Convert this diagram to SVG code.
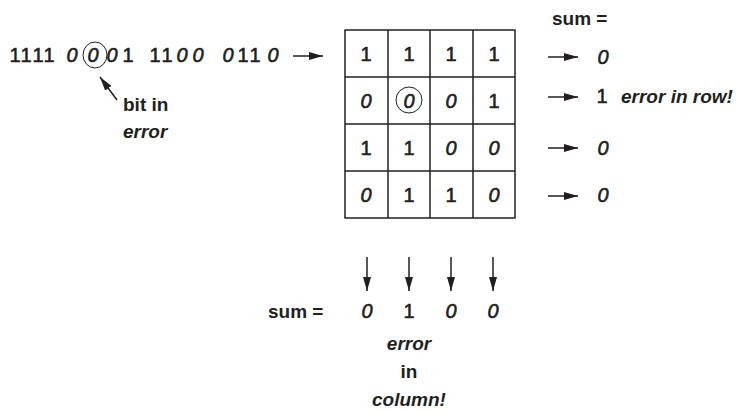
<svg xmlns="http://www.w3.org/2000/svg" width="737" height="412" viewBox="0 0 737 412">
<style>
text{font-family:"Liberation Sans",Arial,sans-serif;font-size:20px;fill:#231f20;stroke:#231f20;stroke-width:0.6}
.s{font-size:19px;font-weight:bold;stroke-width:0}
.c{text-anchor:middle}
.i{font-style:italic}
.grid{fill:none;stroke:#231f20;stroke-width:1.5}
.arr{stroke:#231f20;stroke-width:1.5;fill:none;marker-end:url(#ah)}
.ring{fill:none;stroke:#231f20;stroke-width:1}
</style>
<defs>
<marker id="ah" viewBox="0 0 14 8" refX="14" refY="4" markerWidth="14" markerHeight="8" markerUnits="userSpaceOnUse" orient="auto">
<path d="M0,0 L14,4 L0,8 Z" fill="#231f20"/>
</marker>
</defs>
<g id="bitstring">
<text y="62" class="c"><tspan x="15 26 38 49">1111</tspan><tspan class="i" x="72 93 112">000</tspan><tspan x="128 155 167">111</tspan><tspan class="i" x="182 198 228">000</tspan><tspan x="243 255">11</tspan><tspan class="i" x="273">0</tspan></text>
<ellipse class="ring" cx="95" cy="55" rx="12" ry="13"/>
</g>
<g id="bit-label">
<text x="123" y="111" class="s">bit in</text>
<text x="123" y="138" class="s i">error</text>
</g>
<g id="grid">
<rect class="grid" x="345" y="30" width="170" height="188"/>
<path class="grid" d="M388,30V218M430,30V218M473,30V218M345,77H515M345,124H515M345,171H515"/>
<g class="c">
<text x="366" y="61">1</text><text x="409" y="61">1</text><text x="451" y="61">1</text><text x="494" y="61">1</text>
<text x="366" y="108" class="i">0</text><text x="409" y="108" class="i">0</text><text x="451" y="108" class="i">0</text><text x="494" y="108">1</text>
<text x="366" y="155">1</text><text x="409" y="155">1</text><text x="451" y="155" class="i">0</text><text x="494" y="155" class="i">0</text>
<text x="366" y="202" class="i">0</text><text x="409" y="202">1</text><text x="451" y="202">1</text><text x="494" y="202" class="i">0</text>
</g>
<ellipse class="ring" cx="409" cy="100" rx="13" ry="13"/>
</g>
<g id="row-sums">
<text x="552" y="25" class="s">sum =</text>
<text x="603" y="64" class="c i">0</text>
<text x="602" y="103" class="c">1</text>
<text x="621" y="103" class="s i">error in row!</text>
<text x="603" y="155" class="c i">0</text>
<text x="603" y="202" class="c i">0</text>
</g>
<g id="col-sums">
<text x="268" y="318" class="s">sum =</text>
<text x="367" y="318" class="c i">0</text>
<text x="409" y="318" class="c">1</text>
<text x="451" y="318" class="c i">0</text>
<text x="493" y="318" class="c i">0</text>
<text x="409" y="350" class="s c i">error</text>
<text x="409" y="378" class="s c">in</text>
<text x="409" y="406" class="s c i">column!</text>
</g>
<g id="connectors">
<line class="arr" x1="293" y1="56" x2="323" y2="56"/>
<line class="arr" x1="117" y1="100" x2="100" y2="77"/>
<line class="arr" x1="548" y1="57" x2="578" y2="57"/>
<line class="arr" x1="548" y1="97" x2="578" y2="97"/>
<line class="arr" x1="548" y1="148" x2="578" y2="148"/>
<line class="arr" x1="548" y1="196" x2="578" y2="196"/>
<line class="arr" x1="367" y1="257" x2="367" y2="291"/>
<line class="arr" x1="409" y1="257" x2="409" y2="291"/>
<line class="arr" x1="451" y1="257" x2="451" y2="291"/>
<line class="arr" x1="493" y1="257" x2="493" y2="291"/>
</g>
</svg>
